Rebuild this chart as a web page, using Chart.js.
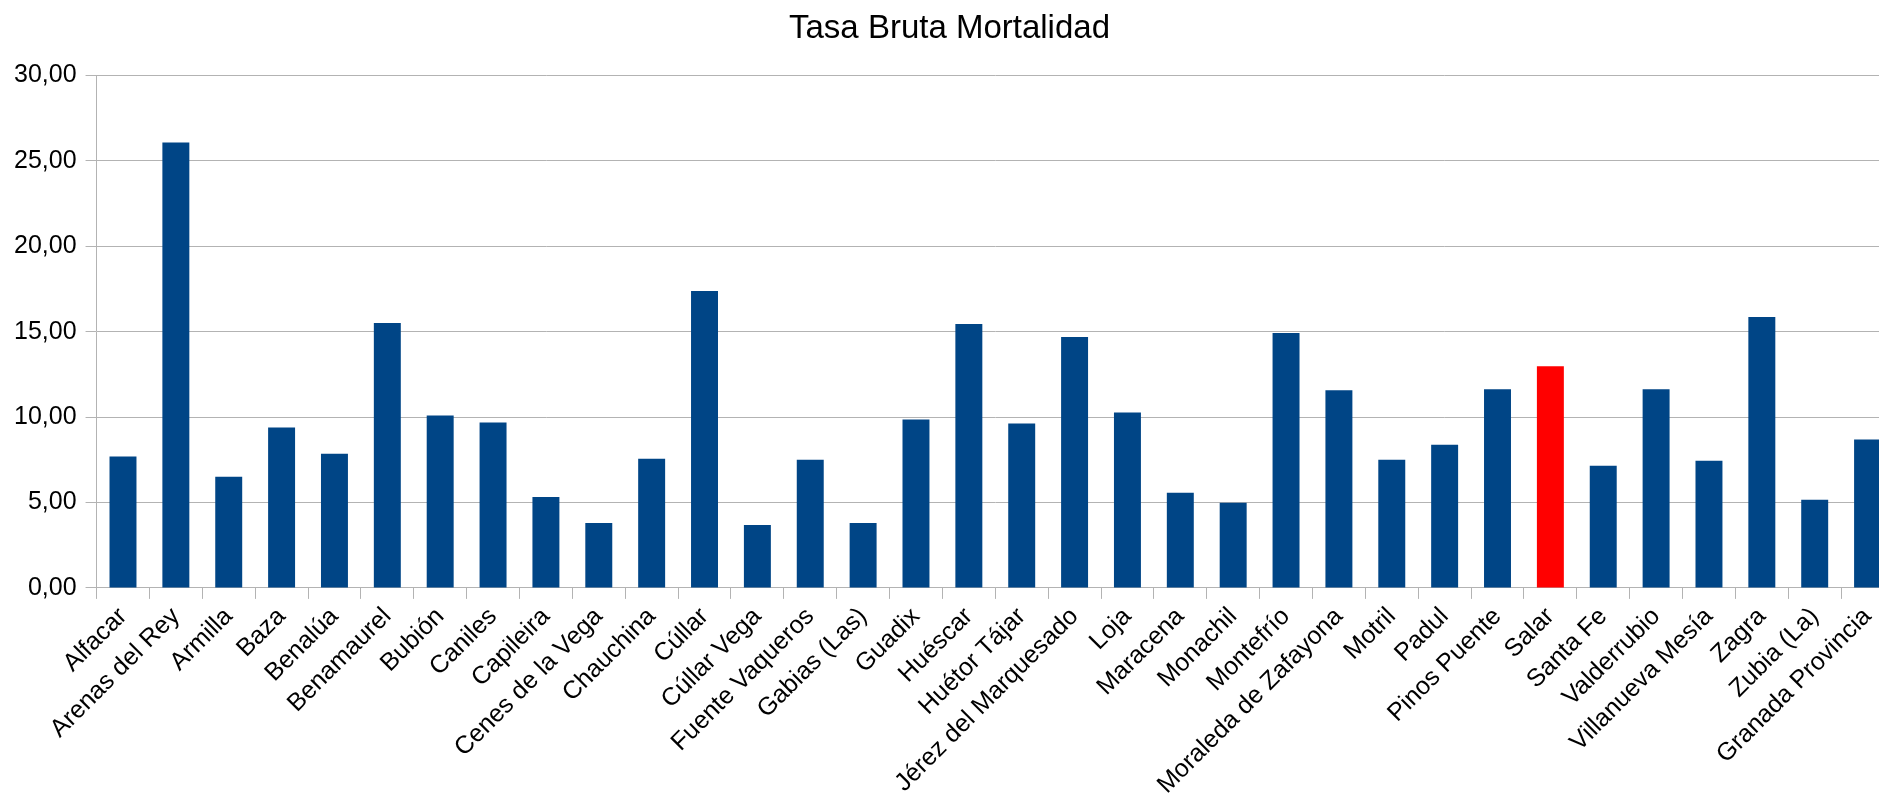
<!DOCTYPE html>
<html>
<head>
<meta charset="utf-8">
<title>Tasa Bruta Mortalidad</title>
<script src="https://cdn.jsdelivr.net/npm/chart.js@4/dist/chart.umd.min.js"></script>
<style>
  html, body { margin: 0; padding: 0; background: #fff; overflow: hidden; }
  #wrap { width: 1907px; height: 803px; }
</style>
</head>
<body>
<div id="wrap"><canvas id="mortalidadChart" width="1907" height="803"></canvas></div>
<script>
// Datos del gráfico
var municipios = ['Alfacar', 'Arenas del Rey', 'Armilla', 'Baza', 'Benalúa', 'Benamaurel', 'Bubión',
    'Caniles', 'Capileira', 'Cenes de la Vega', 'Chauchina', 'Cúllar', 'Cúllar Vega', 'Fuente Vaqueros',
    'Gabias (Las)', 'Guadix', 'Huéscar', 'Huétor Tájar', 'Jérez del Marquesado', 'Loja', 'Maracena',
    'Monachil', 'Montefrío', 'Moraleda de Zafayona', 'Motril', 'Padul', 'Pinos Puente', 'Salar',
    'Santa Fe', 'Valderrubio', 'Villanueva Mesía', 'Zagra', 'Zubia (La)', 'Granada Provincia'];
var tasaBruta = [7.69, 26.08, 6.51, 9.39, 7.86, 15.51, 10.10, 9.69, 5.33, 3.80, 7.57, 17.39, 3.69, 7.51,
    3.80, 9.86, 15.45, 9.63, 14.69, 10.27, 5.57, 4.98, 14.92, 11.57, 7.51, 8.39, 11.63, 12.98,
    7.16, 11.63, 7.45, 15.86, 5.16, 8.69];
var destacado = 'Salar';
var colorBarra = '#004586';
var colorDestacado = '#ff0000';

var colores = municipios.map(function (m) {
    return m === destacado ? colorDestacado : colorBarra;
});

var gris = '#b3b3b3';
var fuente = 'Liberation Sans, Arial, sans-serif';

var ctx = document.getElementById('mortalidadChart').getContext('2d');
var mortalidadChart = new Chart(ctx, {
    type: 'bar',
    data: {
        labels: municipios,
        datasets: [{
            label: 'Tasa Bruta Mortalidad',
            data: tasaBruta,
            backgroundColor: colores,
            borderWidth: 0,
            barPercentage: 0.51,
            categoryPercentage: 1
        }]
    },
    options: {
        responsive: false,
        animation: false,
        devicePixelRatio: 1,
        layout: { padding: { left: 5, right: 13, top: 0, bottom: 0 } },
        plugins: {
            legend: { display: false },
            tooltip: { enabled: false },
            title: {
                display: true,
                text: 'Tasa Bruta Mortalidad',
                color: '#000',
                font: { family: fuente, size: 33, weight: 'normal' },
                padding: { top: 9, bottom: 27 }
            }
        },
        scales: {
            x: {
                offset: true,
                border: { display: true, color: gris, width: 1 },
                grid: {
                    offset: true,
                    drawOnChartArea: false,
                    drawTicks: true,
                    tickLength: 11,
                    color: gris
                },
                ticks: {
                    color: '#000',
                    font: { family: fuente, size: 25 },
                    minRotation: 45,
                    maxRotation: 45,
                    autoSkip: false,
                    padding: 3
                }
            },
            y: {
                min: 0,
                max: 30,
                border: { display: true, color: gris, width: 1 },
                grid: {
                    color: gris,
                    drawTicks: true,
                    tickLength: 11
                },
                ticks: {
                    stepSize: 5,
                    color: '#000',
                    font: { family: fuente, size: 25 },
                    padding: 9,
                    callback: function (v) {
                        return v.toFixed(2).replace('.', ',');
                    }
                }
            }
        }
    }
});
</script>
</body>
</html>
